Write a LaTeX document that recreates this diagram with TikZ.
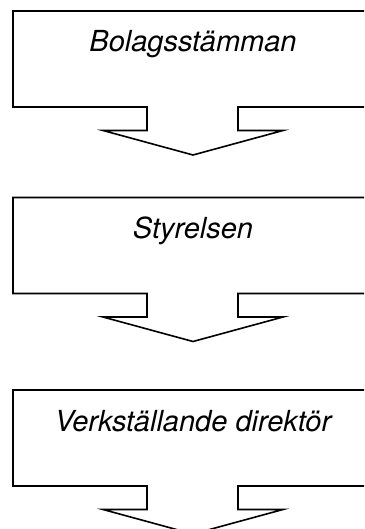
\documentclass[tikz,border=0pt]{standalone}
\usepackage{fontspec}
\setmainfont{TeX Gyre Heros}
\tikzset{
  flowbox/.style={draw=black, line width=1.6pt, line join=miter, fill=white},
  flowlabel/.style={font=\fontsize{29}{34}\selectfont\itshape, anchor=base, inner sep=0pt}
}
\begin{document}
\begin{tikzpicture}[x=1pt,y=-1pt]
\useasboundingbox (0,0) rectangle (364,529);
\clip (0,0) rectangle (364,529);
\foreach \t/\name/\lab in {11/b1/Bolagsstämman, 197.5/b2/Styrelsen, 390/b3/Verkställande direktör}{
  \draw[flowbox] (13,\t) -- (373,\t) -- (373,\t+96) -- (238,\t+96) -- (238,\t+119.5)
    -- (283,\t+119.5) -- (193,\t+144) -- (103,\t+119.5) -- (147,\t+119.5)
    -- (147,\t+96) -- (13,\t+96) -- cycle;
  \node[flowlabel] (\name) at (193,\t+41) {\lab};
}
\end{tikzpicture}
\end{document}
